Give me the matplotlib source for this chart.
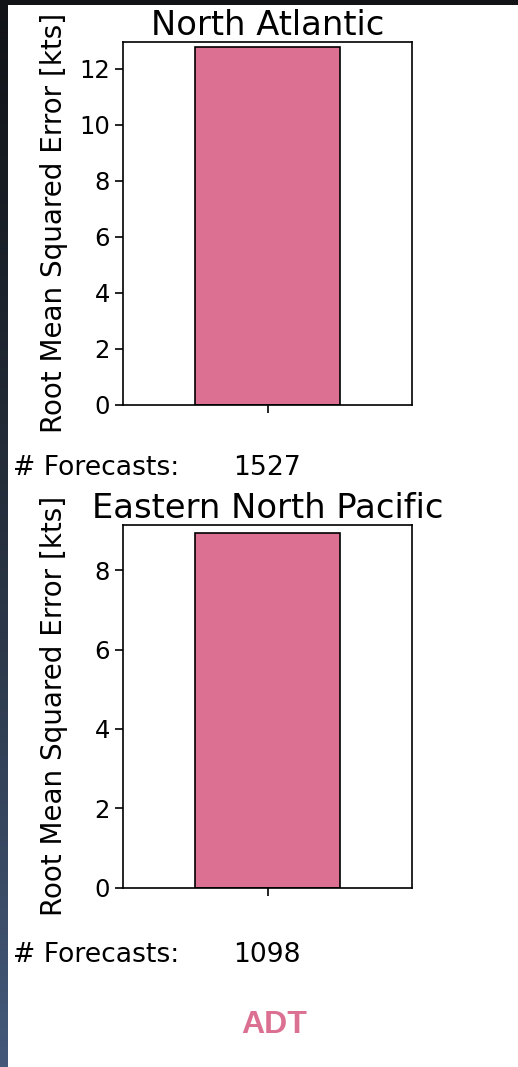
import numpy as np
import matplotlib
matplotlib.use("Agg")
import matplotlib.pyplot as plt
from matplotlib.colors import LinearSegmentedColormap

# Data
basins = ["North Atlantic", "Eastern North Pacific"]
rmse_kts = [12.78, 8.95]
n_forecasts = [1527, 1098]
y_ticks = [[0, 2, 4, 6, 8, 10, 12], [0, 2, 4, 6, 8]]
y_tops = [12.95, 9.14]
model_name = "ADT"

W, H = 518, 1067
fig = plt.figure(figsize=(W / 100, H / 100), dpi=100)
fig.patch.set_facecolor("white")

bar_color = "#db7093"

# Dark frame: top strip and a vertical gradient strip on the left
frame = fig.add_axes([0, 0, 1, 1], zorder=-5)
frame.set_axis_off()
frame.set_xlim(0, W)
frame.set_ylim(H, 0)
grad = np.linspace(0, 1, 256).reshape(-1, 1)
cmap = LinearSegmentedColormap.from_list("side", ["#111317", "#26303e", "#44597a"])
frame.imshow(grad, cmap=cmap, extent=[0, 7.5, H, 0], aspect="auto")
frame.add_patch(plt.Rectangle((0, 0), W, 5, color="#111317", lw=0))

ax_left = 123 / W
ax_w = (412 - 123) / W
ax_h = (404.5 - 42) / H
bottoms = [1 - 404.5 / H, 1 - 887.5 / H]
text_baselines = [475, 962]

for i, name in enumerate(basins):
    ax = fig.add_axes([ax_left, bottoms[i], ax_w, ax_h])
    ax.bar([0], [rmse_kts[i]], width=0.5, color=bar_color,
           edgecolor="black", linewidth=1.2)
    ax.set_xlim(-0.5, 0.5)
    ax.set_ylim(0, y_tops[i])
    ax.set_xticks([0])
    ax.set_xticklabels([""])
    ax.set_yticks(y_ticks[i])
    ax.tick_params(labelsize=17.5, length=6, width=1.2)
    for sp in ax.spines.values():
        sp.set_linewidth(1.2)
    ax.set_title(name, fontsize=24.3, pad=5)
    ax.set_ylabel("Root Mean Squared Error [kts]", fontsize=20)
    ax.yaxis.set_label_coords(-0.19, 0.5)
    yb = 1 - text_baselines[i] / H
    fig.text(13 / W, yb, "# Forecasts:", fontsize=19.2, va="baseline", ha="left")
    fig.text(233 / W, yb, str(n_forecasts[i]), fontsize=19.2, va="baseline", ha="left")

fig.text(274 / W, 1 - 1033 / H, model_name, fontsize=23, fontweight="bold",
         family="Liberation Sans", color=bar_color, ha="center", va="baseline")

fig.savefig("out.png", dpi=100)
